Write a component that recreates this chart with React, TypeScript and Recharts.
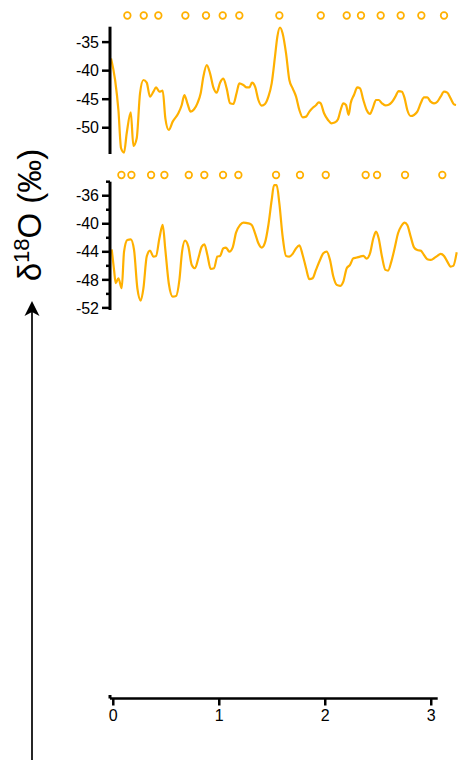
import React from 'react';
import { LineChart, Line, XAxis, YAxis, ScatterChart, Scatter } from 'recharts';

// ---- Data ----
const topX = [0, 0.038, 0.069, 0.094, 0.122, 0.147, 0.185, 0.21, 0.241, 0.272, 0.304, 0.335, 0.366, 0.398, 0.423, 0.454, 0.485, 0.51, 0.542, 0.579, 0.632, 0.664, 0.689, 0.717, 0.748, 0.78, 0.811, 0.842, 0.867, 0.899, 0.93, 0.961, 0.992, 1.024, 1.055, 1.086, 1.118, 1.149, 1.18, 1.205, 1.243, 1.274, 1.299, 1.324, 1.353, 1.384, 1.415, 1.446, 1.478, 1.509, 1.54, 1.562, 1.587, 1.612, 1.644, 1.675, 1.706, 1.738, 1.769, 1.8, 1.832, 1.863, 1.9, 1.925, 1.951, 1.969, 2.001, 2.038, 2.07, 2.101, 2.132, 2.157, 2.182, 2.207, 2.232, 2.251, 2.282, 2.314, 2.339, 2.37, 2.401, 2.433, 2.458, 2.489, 2.514, 2.545, 2.577, 2.608, 2.639, 2.671, 2.702, 2.733, 2.758, 2.783, 2.815, 2.846, 2.877, 2.909, 2.94, 2.971, 3.002, 3.034, 3.065, 3.096, 3.128, 3.159, 3.19, 3.222, 3.241];
const topY = [-37.86, -41.64, -46.89, -53.59, -54.35, -50.97, -47.3, -53.18, -51.84, -43.97, -41.64, -42.11, -44.56, -43.68, -42.93, -43.68, -43.51, -48.35, -50.38, -48.93, -47.47, -46.01, -44.27, -45.72, -47.18, -46.77, -45.72, -43.97, -41.06, -39.02, -40.48, -42.93, -43.86, -42.11, -41.41, -43.1, -45.72, -45.84, -43.86, -42.23, -42.52, -42.93, -42.93, -42.11, -42.81, -45.14, -46.13, -45.84, -44.56, -42.23, -37.56, -34.07, -32.44, -33.48, -36.98, -41.64, -43.1, -44.56, -46.89, -48.17, -48.05, -47.18, -46.42, -46.07, -45.55, -45.72, -47.47, -48.64, -49.22, -49.1, -48.52, -46.89, -45.72, -46.01, -47.76, -45.72, -44.27, -42.93, -43.1, -45.14, -46.89, -47.59, -46.6, -45.14, -45.14, -45.72, -46.07, -45.96, -45.49, -44.56, -43.57, -43.68, -44.85, -46.89, -47.94, -47.76, -47.18, -45.72, -44.67, -44.67, -45.43, -45.72, -45.43, -44.56, -43.68, -43.86, -44.85, -45.9, -46.01];

const bottomX = [0.006, 0.028, 0.044, 0.069, 0.1, 0.122, 0.153, 0.185, 0.216, 0.247, 0.279, 0.304, 0.335, 0.366, 0.398, 0.423, 0.454, 0.485, 0.51, 0.542, 0.579, 0.611, 0.642, 0.667, 0.695, 0.726, 0.758, 0.789, 0.82, 0.852, 0.877, 0.905, 0.936, 0.967, 0.999, 1.024, 1.055, 1.08, 1.111, 1.143, 1.174, 1.212, 1.243, 1.29, 1.321, 1.353, 1.384, 1.415, 1.446, 1.478, 1.509, 1.531, 1.556, 1.581, 1.612, 1.644, 1.675, 1.706, 1.738, 1.769, 1.8, 1.832, 1.863, 1.894, 1.925, 1.963, 1.994, 2.026, 2.057, 2.088, 2.12, 2.151, 2.182, 2.214, 2.245, 2.276, 2.308, 2.339, 2.37, 2.401, 2.433, 2.464, 2.489, 2.514, 2.545, 2.577, 2.602, 2.633, 2.664, 2.696, 2.727, 2.758, 2.783, 2.815, 2.846, 2.877, 2.909, 2.94, 2.971, 3.002, 3.034, 3.065, 3.096, 3.128, 3.159, 3.19, 3.215, 3.247];
const bottomY = [-43.64, -46.58, -48.48, -47.77, -49.2, -43.97, -42.31, -42.22, -43.74, -49.2, -50.95, -49.2, -44.68, -43.83, -44.68, -44.59, -42.07, -40.17, -43.74, -48.48, -50.38, -50.29, -48.01, -43.97, -42.41, -43.26, -45.87, -46.34, -44.92, -43.26, -42.93, -44.45, -46.44, -46.34, -44.68, -44.59, -43.5, -43.4, -43.97, -43.36, -41.27, -40.17, -39.84, -39.94, -40.17, -41.36, -42.79, -43.4, -42.69, -40.17, -36.61, -34.48, -34.48, -37.09, -41.84, -44.59, -44.68, -44.3, -43.5, -43.07, -44.45, -46.34, -47.91, -47.77, -46.58, -45.16, -44.21, -43.97, -45.16, -47.53, -48.72, -48.86, -48.24, -46.34, -45.87, -44.92, -44.82, -44.68, -44.59, -44.97, -44.21, -42.07, -41.12, -42.07, -44.68, -46.58, -46.68, -45.4, -43.5, -41.36, -40.32, -39.84, -40.17, -41.84, -43.36, -43.74, -43.83, -44.45, -45.06, -45.16, -44.92, -44.59, -44.3, -44.59, -45.4, -46.11, -46.01, -44.07];

const topDotsX = [0.153, 0.307, 0.444, 0.698, 0.892, 1.049, 1.205, 1.581, 1.97, 2.214, 2.348, 2.533, 2.721, 2.915, 3.128];
const bottomDotsX = [0.097, 0.191, 0.376, 0.501, 0.73, 0.876, 1.052, 1.196, 1.55, 1.775, 2.017, 2.392, 2.499, 2.762, 3.112];

const topTicks = [-50, -45, -40, -35];
const bottomTicks = [-52, -50, -48, -46, -44, -42, -40, -38, -36, -34];
const bottomMajor = [-52, -48, -44, -40, -36];
const xTicks = [0, 1, 2, 3];

// ---- Style ----
const ORANGE = '#FFB000';
const FONT = '"Liberation Sans", Arial, Helvetica, sans-serif';
const PANEL_X_DOMAIN: [number, number] = [-0.01, 3.25];

const topRows = topX.map((x, i) => ({ x, y: topY[i] }));
const bottomRows = bottomX.map((x, i) => ({ x, y: bottomY[i] }));
const topDots = topDotsX.map((x) => ({ x, y: 0.5 }));
const bottomDots = bottomDotsX.map((x) => ({ x, y: 0.5 }));

const isMajor = (majors: number[] | null, v: any) =>
  majors === null || majors.some((m) => Math.abs(m - Number(v)) < 1e-6);

const makeYTick = (majors: number[] | null) => (props: any) => {
  const { x, y, payload } = props;
  const major = isMajor(majors, payload.value);
  const ax = x + 10;
  const len = major ? 8 : 4;
  return (
    <g>
      <line x1={ax - len} x2={ax} y1={y} y2={y} stroke="#000" strokeWidth={2.5} />
      {major && (
        <text x={x - 1} y={y} dy="0.355em" textAnchor="end" fontSize={16} fontFamily={FONT} fill="#000">
          {payload.value}
        </text>
      )}
    </g>
  );
};

const XTick = (props: any) => {
  const { x, y, payload } = props;
  return (
    <text x={x} y={y} dy="0.85em" textAnchor="middle" fontSize={16} fontFamily={FONT} fill="#000">
      {payload.value}
    </text>
  );
};

const DotShape = (props: any) => (
  <circle cx={props.cx} cy={props.cy} r={3.3} fill="#fff" stroke={ORANGE} strokeWidth={1.7} />
);

const abs = (top: number): React.CSSProperties => ({ position: 'absolute', left: 0, top });

export default function App() {
  return (
    <div style={{ position: 'absolute', left: 0, top: 0, width: 461, height: 760, background: '#fff', overflow: 'hidden' }}>
      {/* top panel dots */}
      <div style={abs(0)}>
        <ScatterChart width={461} height={31} margin={{ top: 0, right: 4, bottom: 0, left: 110 }}>
          <XAxis dataKey="x" type="number" domain={PANEL_X_DOMAIN} hide />
          <YAxis dataKey="y" type="number" domain={[0, 1]} hide width={0} />
          <Scatter data={topDots} shape={DotShape} isAnimationActive={false} />
        </ScatterChart>
      </div>
      {/* top panel line */}
      <div style={abs(0)}>
        <LineChart width={461} height={164} data={topRows} margin={{ top: 26.7, right: 4, bottom: 10, left: 0 }}>
          <XAxis dataKey="x" type="number" domain={PANEL_X_DOMAIN} hide />
          <YAxis
            type="number"
            domain={[-54.6, -32.3]}
            ticks={topTicks}
            interval={0}
            width={110}
            tickSize={8}
            tickMargin={2}
            axisLine={{ stroke: '#000', strokeWidth: 3 }}
            tickLine={false}
            tick={makeYTick(null)}
          />
          <Line dataKey="y" type="monotone" stroke={ORANGE} strokeWidth={2.2} dot={false} isAnimationActive={false} />
        </LineChart>
      </div>
      {/* bottom panel dots */}
      <div style={abs(160)}>
        <ScatterChart width={461} height={30} margin={{ top: 0, right: 4, bottom: 0, left: 110 }}>
          <XAxis dataKey="x" type="number" domain={PANEL_X_DOMAIN} hide />
          <YAxis dataKey="y" type="number" domain={[0, 1]} hide width={0} />
          <Scatter data={bottomDots} shape={DotShape} isAnimationActive={false} />
        </ScatterChart>
      </div>
      {/* bottom panel line */}
      <div style={abs(0)}>
        <LineChart width={461} height={325} data={bottomRows} margin={{ top: 181.7, right: 4, bottom: 15, left: 0 }}>
          <XAxis dataKey="x" type="number" domain={PANEL_X_DOMAIN} hide />
          <YAxis
            type="number"
            domain={[-52.3, -34]}
            ticks={bottomTicks}
            interval={0}
            width={110}
            tickSize={8}
            tickMargin={2}
            axisLine={{ stroke: '#000', strokeWidth: 3 }}
            tickLine={false}
            tick={makeYTick(bottomMajor)}
          />
          <Line dataKey="y" type="monotone" stroke={ORANGE} strokeWidth={2.2} dot={false} isAnimationActive={false} />
        </LineChart>
      </div>
      {/* shared x axis */}
      <div style={abs(0)}>
        <LineChart width={461} height={760} data={[]} margin={{ top: 695, right: 23.3, bottom: 31.5, left: 0 }}>
          <XAxis
            type="number"
            dataKey="x"
            domain={[-0.031, 3.061]}
            ticks={xTicks}
            interval={0}
            height={30}
            tickSize={7}
            tickMargin={2}
            axisLine={{ stroke: '#000', strokeWidth: 2.5 }}
            tickLine={{ stroke: '#000', strokeWidth: 2.5 }}
            tick={XTick}
            allowDataOverflow
          />
          <YAxis
            type="number"
            domain={[0, 1]}
            ticks={[0.6]}
            width={110}
            tickSize={5}
            axisLine={{ stroke: '#000', strokeWidth: 3 }}
            tickLine={{ stroke: '#000', strokeWidth: 3 }}
            tick={false}
          />
        </LineChart>
      </div>
      {/* arrow and axis label */}
      <svg width={461} height={760} style={{ position: 'absolute', left: 0, top: 0, pointerEvents: 'none' }}>
        <line x1={32} y1={760} x2={32} y2={312} stroke="#000" strokeWidth={1.7} />
        <polygon points="32,301 24.5,316 32,312 39.5,316" fill="#000" />
        <text
          transform="translate(41, 215) rotate(-90)"
          textAnchor="middle"
          fontSize={33}
          fontFamily={FONT}
          fill="#000"
        >
          δ
          <tspan fontSize={22} dy={-12}>18</tspan>
          <tspan dy={12}>O (‰)</tspan>
        </text>
      </svg>
    </div>
  );
}
